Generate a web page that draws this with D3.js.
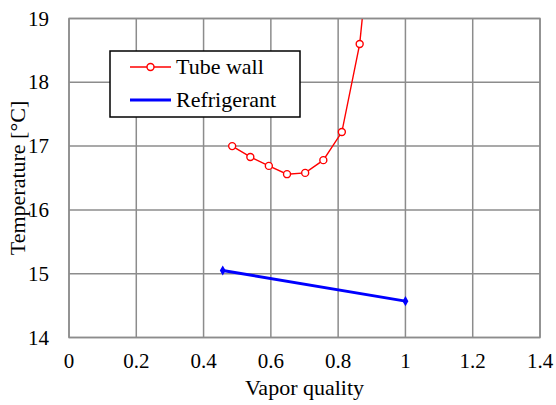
<!DOCTYPE html>
<html>
<head>
<meta charset="utf-8">
<script src="https://cdn.jsdelivr.net/npm/d3@7"></script>
</head>
<body style="margin:0">
<svg id="s" width="556" height="405"></svg>
<script>
// Vapor quality (x) and temperature in °C (y)
const tubeWallX = [0.485, 0.539, 0.594, 0.648, 0.702, 0.756, 0.811, 0.864, 0.918];
const tubeWallY = [17.00, 16.83, 16.69, 16.56, 16.58, 16.78, 17.22, 18.60, 21.4];
const refrigerantX = [0.457, 1.0];
const refrigerantY = [15.05, 14.57];
const xTicks = [0, 0.2, 0.4, 0.6, 0.8, 1.0, 1.2, 1.4];
const yTicks = [14, 15, 16, 17, 18, 19];
const seriesNames = ["Tube wall", "Refrigerant"];

const svg = d3.select("#s");
const m = { left: 69, right: 540, top: 18.5, bottom: 337.5 };

const x = d3.scaleLinear().domain([0, 1.4]).range([m.left, m.right]);
const y = d3.scaleLinear().domain([14, 19]).range([m.bottom, m.top]);

const gridColor = "#8c8c8c";

// adds a serif text element
function label(parent, tx, ty, str, size, anchor) {
  return parent.append("text")
    .attr("x", tx).attr("y", ty)
    .attr("font-size", size)
    .attr("text-anchor", anchor)
    .style("font-family", '"Liberation Serif"')
    .text(str);
}

// grid lines
svg.append("g").selectAll("line").data(xTicks).join("line")
  .attr("x1", d => x(d)).attr("x2", d => x(d))
  .attr("y1", m.top).attr("y2", m.bottom)
  .attr("stroke", gridColor).attr("stroke-width", 1.5);
svg.append("g").selectAll("line").data(yTicks).join("line")
  .attr("x1", m.left).attr("x2", m.right)
  .attr("y1", d => y(d)).attr("y2", d => y(d))
  .attr("stroke", gridColor).attr("stroke-width", 1.5);

// clip to the plotting area
svg.append("clipPath").attr("id", "plotClip").append("rect")
  .attr("x", m.left).attr("y", m.top)
  .attr("width", m.right - m.left).attr("height", m.bottom - m.top);

const plot = svg.append("g").attr("clip-path", "url(#plotClip)");
const line = d3.line().x(d => x(d[0])).y(d => y(d[1]));

// Tube wall
const tw = d3.zip(tubeWallX, tubeWallY);
plot.append("path").datum(tw).attr("d", line)
  .attr("fill", "none").attr("stroke", "#ff0000").attr("stroke-width", 1.4);
plot.selectAll("circle").data(tw).join("circle")
  .attr("cx", d => x(d[0])).attr("cy", d => y(d[1])).attr("r", 3.5)
  .attr("fill", "#fff").attr("stroke", "#ff0000").attr("stroke-width", 1.4);

// Refrigerant
const rf = d3.zip(refrigerantX, refrigerantY);
plot.append("path").datum(rf).attr("d", line)
  .attr("fill", "none").attr("stroke", "#0000ff").attr("stroke-width", 3);
const diamond = d3.symbol().type(d3.symbolDiamond).size(30);
plot.selectAll("path.rf").data(rf).join("path").attr("class", "rf")
  .attr("transform", d => `translate(${x(d[0])},${y(d[1])})`)
  .attr("d", diamond).attr("fill", "#0000ff");

// plot border
svg.append("rect").attr("x", m.left).attr("y", m.top)
  .attr("width", m.right - m.left).attr("height", m.bottom - m.top)
  .attr("fill", "none").attr("stroke", gridColor).attr("stroke-width", 1.5);

// tick labels
xTicks.forEach(d => label(svg, x(d), 368, String(+d.toFixed(1)), 21, "middle"));
yTicks.forEach(d => label(svg, 49, y(d) + 7, String(d), 21, "end"));

// axis titles
label(svg, (m.left + m.right) / 2, 395, "Vapor quality", 22, "middle");
label(svg, 0, 0, "Temperature [°C]", 22, "middle")
  .attr("transform", `translate(25,${(m.top + m.bottom) / 2}) rotate(-90)`);

// legend
const lg = svg.append("g");
lg.append("rect").attr("x", 110).attr("y", 51).attr("width", 190).attr("height", 66)
  .attr("fill", "#fff").attr("stroke", "#000").attr("stroke-width", 1.5);
lg.append("line").attr("x1", 130).attr("x2", 171).attr("y1", 67).attr("y2", 67)
  .attr("stroke", "#ff0000").attr("stroke-width", 1.4);
lg.append("circle").attr("cx", 150.5).attr("cy", 67).attr("r", 3.5)
  .attr("fill", "#fff").attr("stroke", "#ff0000").attr("stroke-width", 1.4);
lg.append("line").attr("x1", 130).attr("x2", 171).attr("y1", 100).attr("y2", 100)
  .attr("stroke", "#0000ff").attr("stroke-width", 3);
label(lg, 176, 74, seriesNames[0], 22, "start");
label(lg, 176, 107, seriesNames[1], 22, "start");
</script>
</body>
</html>
